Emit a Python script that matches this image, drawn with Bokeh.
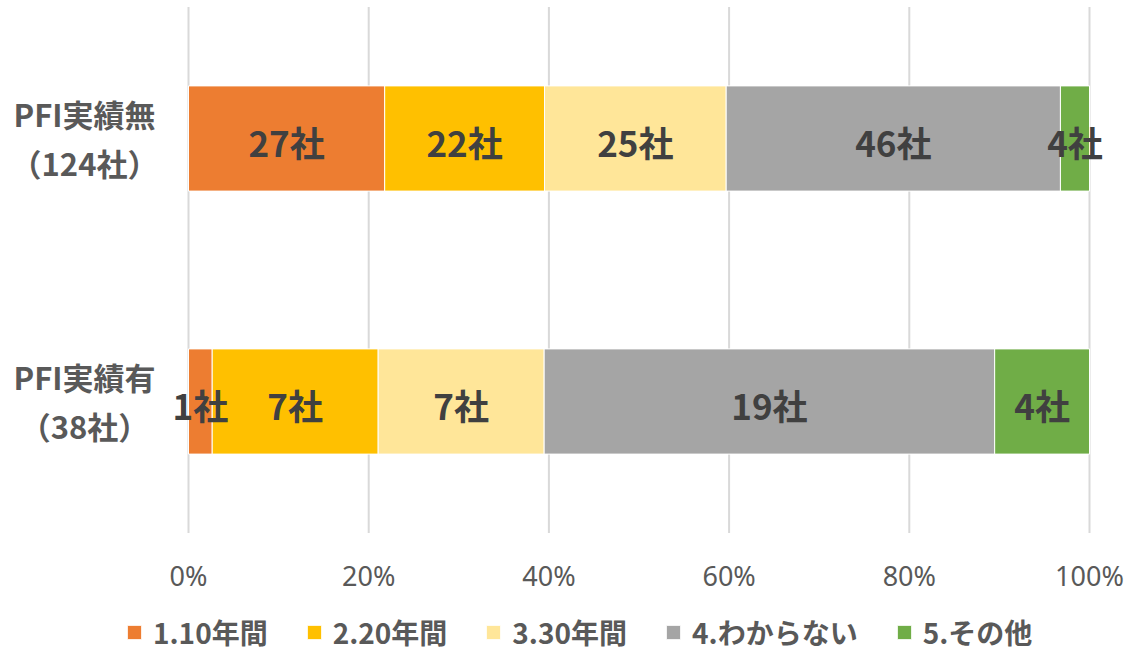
from bokeh.plotting import figure
from bokeh.models import Legend, LegendItem, ColumnDataSource, Range1d
from bokeh.core.properties import value
from bokeh.embed import file_html
from bokeh.resources import INLINE

# ---- data ----
group_pos = [0, 1]  # bottom, top
group_line1 = ["PFI実績有", "PFI実績無"]
group_line2 = ["（38社）", "（124社）"]
series_names = ["1.10年間", "2.20年間", "3.30年間", "4.わからない", "5.その他"]
colors = ["#ED7D31", "#FFC000", "#FFE699", "#A5A5A5", "#70AD47"]
s1 = [1, 27]
s2 = [7, 22]
s3 = [7, 25]
s4 = [19, 46]
s5 = [4, 4]
series_values = [s1, s2, s3, s4, s5]
x_ticks = [0, 0.2, 0.4, 0.6, 0.8, 1.0]
x_tick_labels = ["0%", "20%", "40%", "60%", "80%", "100%"]

# ---- layout (pixels) ----
W, H = 1124, 652
PLOT_L, PLOT_R = 188, 1089          # x=0 and x=1 in pixels
ROW_PX = 263.0                      # pixels per category
TOP_ROW_PX = 138.0                  # centre of top category from top

JP = value("Noto Sans CJK JP")

totals = [sum(v[i] for v in series_values) for i in range(len(group_pos))]

px_per_x = PLOT_R - PLOT_L
x_start = -PLOT_L / px_per_x
x_end = 1 + (W - PLOT_R) / px_per_x
y_end = max(group_pos) + TOP_ROW_PX / ROW_PX
y_start = y_end - H / ROW_PX
grid_lo = min(group_pos) - 0.5
grid_hi = max(group_pos) + 0.5

p = figure(width=W, height=H, output_backend="svg", toolbar_location=None,
           x_range=Range1d(x_start, x_end), y_range=Range1d(y_start, y_end),
           min_border=0, min_border_left=0, min_border_right=0,
           min_border_top=0, min_border_bottom=0)
p.outline_line_color = None
p.background_fill_color = "white"
p.border_fill_color = "white"
p.xaxis.visible = False
p.yaxis.visible = False
p.xgrid.visible = False
p.ygrid.visible = False

# vertical grid lines
p.segment(x0=x_ticks, x1=x_ticks, y0=[grid_lo] * len(x_ticks), y1=[grid_hi] * len(x_ticks),
          line_color="#D9D9D9", line_width=2)

# x tick labels
p.text(x=x_ticks, y=[grid_lo] * len(x_ticks), text=x_tick_labels, y_offset=42,
       text_align="center", text_baseline="middle", text_font=value("Noto Sans"),
       text_font_size="27px", text_color="#595959")

# stacked bars
cum = [0.0] * len(group_pos)
renderers = []
for name, vals, col in zip(series_names, series_values, colors):
    left = [cum[i] for i in range(len(vals))]
    right = [cum[i] + vals[i] / totals[i] for i in range(len(vals))]
    src = ColumnDataSource(dict(y=group_pos, left=left, right=right))
    r = p.hbar(y="y", left="left", right="right", height=0.4, source=src,
               fill_color=col, line_color="white", line_width=1)
    renderers.append((name, r))
    cum = right

# segment labels (drawn after all bars)
cum = [0.0] * len(group_pos)
for vals in series_values:
    right = [cum[i] + vals[i] / totals[i] for i in range(len(vals))]
    mid = [(l + r) / 2 for l, r in zip(cum, right)]
    p.text(x=mid, y=group_pos, text=[f"{v}社" for v in vals], y_offset=3,
           text_align="center", text_baseline="middle", text_font=JP,
           text_font_style="bold", text_font_size="35px", text_color="#404040")
    cum = right

# category labels (two lines)
p.text(x=[0] * len(group_pos), y=group_pos, text=group_line1, x_offset=-104, y_offset=-25,
       text_align="center", text_baseline="middle", text_font=JP,
       text_font_style="bold", text_font_size="31px", text_color="#595959")
p.text(x=[0] * len(group_pos), y=group_pos, text=group_line2, x_offset=-104, y_offset=24,
       text_align="center", text_baseline="middle", text_font=JP,
       text_font_style="bold", text_font_size="31px", text_color="#595959")

legend = Legend(items=[LegendItem(label=n, renderers=[r]) for n, r in renderers],
                orientation="horizontal", location=(125, 0),
                glyph_width=18, glyph_height=18, label_standoff=10, spacing=37,
                border_line_color=None, background_fill_alpha=0,
                label_text_font="Noto Sans CJK JP", label_text_font_style="bold",
                label_text_font_size="28px", label_text_color="#595959",
                padding=0, margin=0)
p.add_layout(legend, "center")

open("out.html", "w").write(file_html(p, INLINE))
